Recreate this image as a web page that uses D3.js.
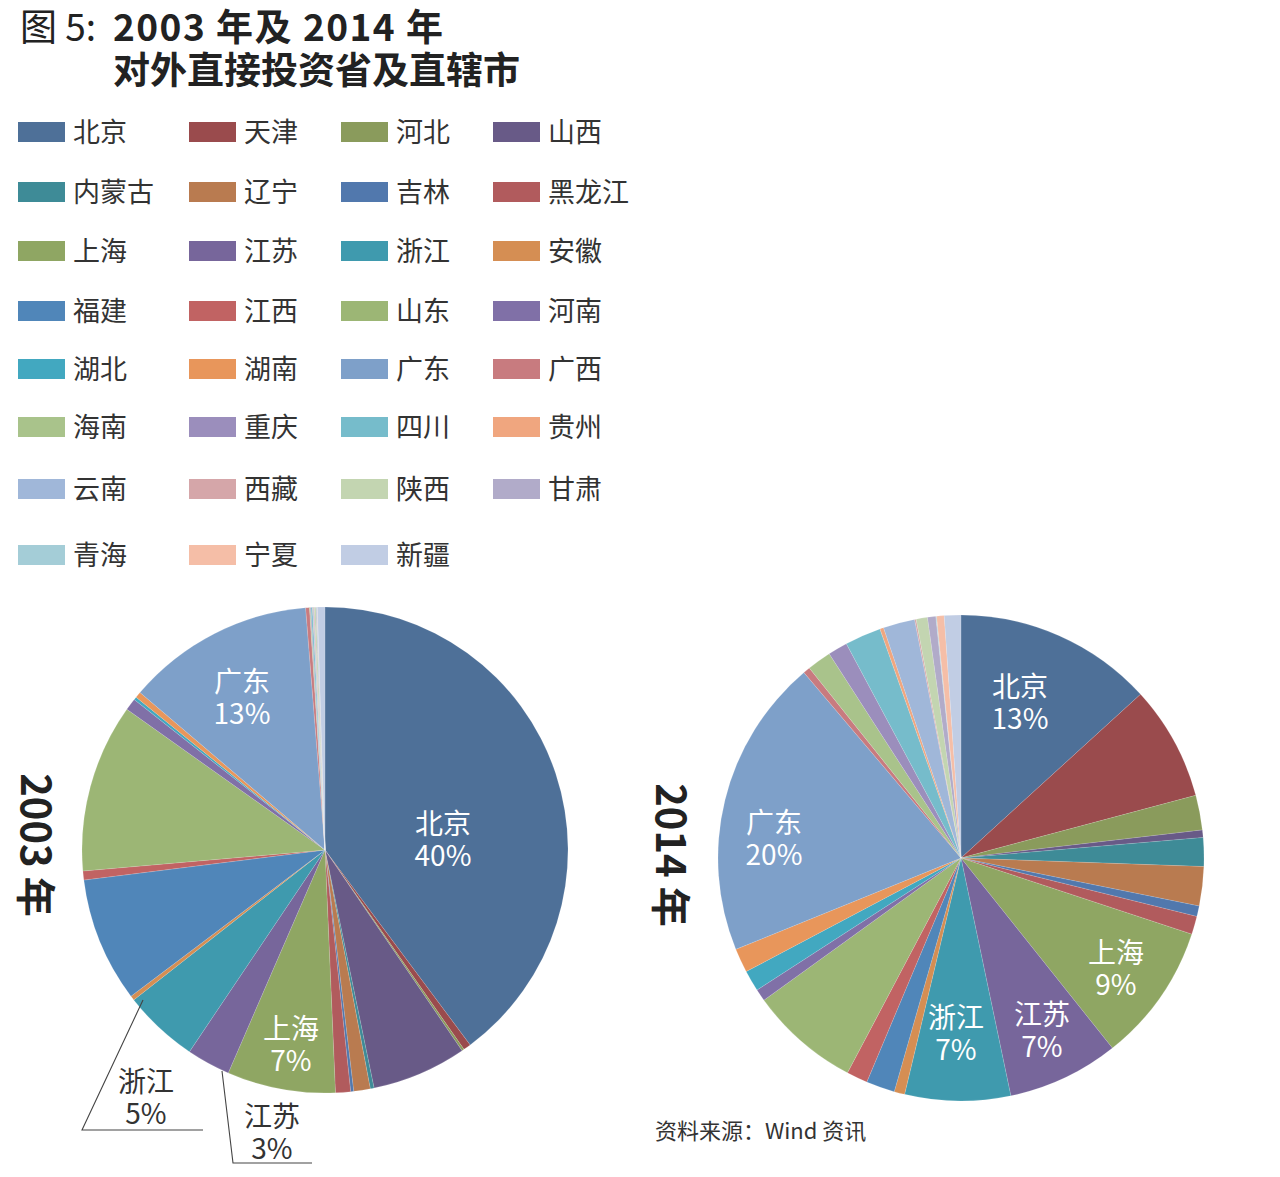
<!DOCTYPE html>
<html><head><meta charset="utf-8">
<script src="https://cdn.jsdelivr.net/npm/d3@7"></script>
<style>
html,body{margin:0;padding:0;background:#fff;}
svg{display:block;}
text{font-family:"Noto Sans CJK SC","Noto Sans",sans-serif;}
</style></head>
<body>
<svg id="chart" width="1280" height="1177"></svg>
<script>
// ---------- DATA ----------
const provinces = ["北京","天津","河北","山西","内蒙古","辽宁","吉林","黑龙江",
  "上海","江苏","浙江","安徽","福建","江西","山东","河南",
  "湖北","湖南","广东","广西","海南","重庆","四川","贵州",
  "云南","西藏","陕西","甘肃","青海","宁夏","新疆"];
// share of outward FDI (%)
const values2003 = [39.8,0.5,0.15,6.3,0.25,1.1,0.2,1.0,
  7.2,2.9,5.0,0.3,8.3,0.6,11.2,0.8,
  0.2,0.4,12.5,0.25,0.05,0.05,0.1,0.02,
  0.05,0.05,0.1,0.05,0.03,0.02,0.5];
const values2014 = [13.2,7.6,2.3,0.5,1.9,2.6,0.7,1.2,
  9.2,7.4,7.0,0.7,1.9,1.4,7.3,0.8,
  1.4,1.6,19.9,0.46,1.6,1.3,2.4,0.25,
  2.1,0.1,0.75,0.55,0.05,0.5,1.1];
const colors = ["#4e7098","#9a4b4d","#8a9b5c","#685a87","#3e8b97","#b97b50","#5178ad","#b15b5d",
  "#8fa663","#77669b","#3f9aae","#d58e53","#5086b9","#c16363","#9cb675","#8070a7",
  "#42a8c0","#e8965b","#7ea0c9","#c87b7f","#a9c38b","#9b8ebc","#76bccb","#f0a67f",
  "#a0b7d9","#d5a6a9","#c3d5b1","#b1abc9","#a4cdd7","#f5bea7","#c1cde4"];
const yearLabels = ["2003 年","2014 年"];
const sliceLabels2003 = [{name:"北京",pct:"40%"},{name:"广东",pct:"13%"},{name:"上海",pct:"7%"}];
const sliceLabels2014 = [{name:"北京",pct:"13%"},{name:"广东",pct:"20%"},{name:"上海",pct:"9%"},{name:"江苏",pct:"7%"},{name:"浙江",pct:"7%"}];
const calloutLabels2003 = [{name:"浙江",pct:"5%"},{name:"江苏",pct:"3%"}];

// ---------- LAYOUT ----------
const svg = d3.select("#chart");

// Title
svg.append("text").attr("x",20).attr("y",41).attr("font-size",37).attr("font-weight",400)
  .attr("fill","#222").text("图 5:");
svg.append("text").attr("x",113).attr("y",41).attr("font-size",37).attr("font-weight",700)
  .attr("fill","#222").attr("textLength",330).attr("lengthAdjust","spacing").text("2003 年及 2014 年");
svg.append("text").attr("x",113).attr("y",84).attr("font-size",37).attr("font-weight",700)
  .attr("fill","#222").text("对外直接投资省及直辖市");

// Legend
const colX = [18,189,341,493];
const rowY = [132,192,251,311,369,427,489,555];
const leg = svg.append("g");
provinces.forEach((p,i)=>{
  const c = i%4, r = Math.floor(i/4);
  const g = leg.append("g").attr("transform",`translate(${colX[c]},${rowY[r]})`);
  g.append("rect").attr("x",0).attr("y",-10).attr("width",47).attr("height",20).attr("fill",colors[i]);
  g.append("text").attr("x",55).attr("y",9.5).attr("font-size",27).attr("fill","#333").text(p);
});

// Pies
const R = 243;
const pie = d3.pie().sort(null).value(d=>d);
const arc = d3.arc().innerRadius(0).outerRadius(R);
function drawPie(cx, cy, values){
  const g = svg.append("g").attr("transform",`translate(${cx},${cy})`);
  g.selectAll("path").data(pie(values)).join("path")
    .attr("d",arc).attr("fill",(d,i)=>colors[i])
    .attr("stroke","#fff").attr("stroke-width",0.25).attr("stroke-opacity",0.5);
  return g;
}
const c1 = [325,850], c2 = [961,858];
drawPie(c1[0],c1[1],values2003);
drawPie(c2[0],c2[1],values2014);

function inLabel(x,y,lab,fill){
  const t = svg.append("text").attr("text-anchor","middle").attr("font-size",28).attr("fill",fill||"#fff");
  t.append("tspan").attr("x",x).attr("y",y).text(lab.name);
  t.append("tspan").attr("x",x).attr("y",y+32).text(lab.pct);
}
// 2003 labels (positions relative to pie centre)
const pos2003 = [[118,-16],[-83,-158],[-34,189]];
sliceLabels2003.forEach((l,i)=>inLabel(c1[0]+pos2003[i][0], c1[1]+pos2003[i][1], l));
const pos2014 = [[59,-161],[-187,-25],[155,105],[81,167],[-5,170]];
sliceLabels2014.forEach((l,i)=>inLabel(c2[0]+pos2014[i][0], c2[1]+pos2014[i][1], l));

// Callouts for 2003
function callout(pts, lx, ly, lab){
  svg.append("path").attr("d", d3.line()(pts)).attr("fill","none").attr("stroke","#444").attr("stroke-width",1.1);
  inLabel(lx, ly, lab, "#333");
}
callout([[143,1000],[82,1130],[203,1130]], 146, 1092, calloutLabels2003[0]);
callout([[222,1071],[233,1163],[312,1163]], 272, 1127, calloutLabels2003[1]);

// Year labels (rotated)
[[38,845],[673,855]].forEach((p,i)=>{
  svg.append("text").attr("transform",`translate(${p[0]},${p[1]}) rotate(90)`)
    .attr("text-anchor","middle").attr("dominant-baseline","central")
    .attr("font-size",40).attr("font-weight",700).attr("fill","#222").text(yearLabels[i]);
});

// Source
svg.append("text").attr("x",655).attr("y",1139).attr("font-size",22).attr("fill","#333").text("资料来源：Wind 资讯");
</script>
</body></html>
